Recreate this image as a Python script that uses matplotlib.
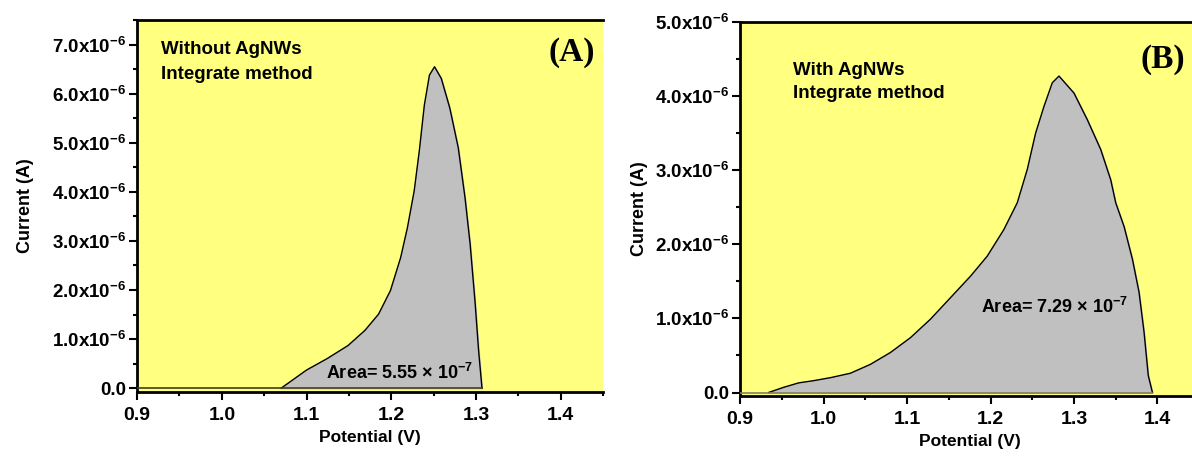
import numpy as np
import matplotlib.pyplot as plt
from matplotlib.ticker import FuncFormatter, MultipleLocator

plt.rcParams['font.family'] = ['Liberation Sans', 'DejaVu Sans']
plt.rcParams['font.weight'] = 'bold'
plt.rcParams['mathtext.default'] = 'regular'

# Panel A: without AgNWs (potential V, current in 1e-6 A)
pot_a = [1.070, 1.100, 1.124, 1.149, 1.169, 1.185, 1.199, 1.211, 1.219, 1.227,
         1.233, 1.239, 1.245, 1.251, 1.259, 1.269, 1.279, 1.287, 1.293, 1.299,
         1.303, 1.307]
cur_a = [0.0, 0.37, 0.60, 0.87, 1.18, 1.51, 1.99, 2.66, 3.27, 4.02,
         4.83, 5.77, 6.38, 6.55, 6.31, 5.71, 4.90, 3.88, 2.94, 1.72,
         0.77, 0.0]

# Panel B: with AgNWs
pot_b = [0.934, 0.952, 0.970, 0.988, 1.008, 1.032, 1.056, 1.080, 1.104, 1.128,
         1.152, 1.176, 1.196, 1.216, 1.232, 1.244, 1.254, 1.264, 1.274, 1.282,
         1.300, 1.316, 1.332, 1.344, 1.350, 1.360, 1.370, 1.378, 1.384, 1.389,
         1.394]
cur_b = [0.0, 0.07, 0.13, 0.16, 0.20, 0.26, 0.38, 0.54, 0.74, 0.99,
         1.28, 1.57, 1.84, 2.20, 2.56, 3.01, 3.50, 3.86, 4.18, 4.27,
         4.04, 3.68, 3.28, 2.87, 2.56, 2.24, 1.80, 1.35, 0.81, 0.23,
         0.0]

YELLOW = '#ffff80'
GREY = '#c0c0c0'


def sci_fmt(v, pos):
    if abs(v) < 1e-12:
        return '0.0'
    return '%.1fx10$^{-6}$' % (v * 1e6)


def style_axes(ax, ylo, yhi, pad):
    ax.set_facecolor(YELLOW)
    ax.set_xlim(0.9, 1.45)
    ax.set_ylim(ylo, yhi)
    ax.xaxis.set_major_locator(MultipleLocator(0.1))
    ax.xaxis.set_minor_locator(MultipleLocator(0.05))
    ax.yaxis.set_major_locator(MultipleLocator(1e-6))
    ax.yaxis.set_minor_locator(MultipleLocator(0.5e-6))
    ax.yaxis.set_major_formatter(FuncFormatter(sci_fmt))
    ax.xaxis.set_major_formatter(FuncFormatter(lambda v, p: '%.1f' % v))
    ax.spines['right'].set_visible(False)
    for s in ['left', 'bottom', 'top']:
        ax.spines[s].set_linewidth(2)
    ax.tick_params(which='both', direction='out', width=1.5)
    ax.tick_params(which='major', length=6)
    ax.tick_params(which='minor', length=3)
    ax.tick_params(axis='x', labelsize=14, pad=5)
    ax.tick_params(axis='y', labelsize=13.5, pad=2)
    for lab in ax.get_xticklabels() + ax.get_yticklabels():
        lab.set_fontweight('bold')
    ax.set_xlabel('Potential (V)', fontsize=12.5, fontweight='bold')
    ax.set_ylabel('Current (A)', fontsize=13, fontweight='bold', labelpad=pad)


fig = plt.figure(figsize=(11.92, 4.57), dpi=100)
ax_a = fig.add_axes([0.115, 0.142, 0.391, 0.814])
ax_b = fig.add_axes([0.621, 0.133, 0.385, 0.819])

# Panel A
xa = np.array(pot_a)
ya = np.array(cur_a) * 1e-6
ax_a.fill_between(xa, 0, ya, color=GREY, zorder=2)
ax_a.plot(xa, ya, color='black', lw=1, zorder=3)
ax_a.plot([0.9, pot_a[-1]], [0, 0], color='#404020', lw=1.2, zorder=3)
style_axes(ax_a, -0.08e-6, 7.5e-6, 13)
ax_a.text(0.928, 6.90e-6, 'Without AgNWs', fontsize=13.5, va='center')
ax_a.text(0.928, 6.39e-6, 'Integrate method', fontsize=13.5, va='center')
ax_a.text(1.386, 6.85e-6, '(A)', fontsize=24, fontweight='bold', ha='left',
          va='center', family='Liberation Serif')
ax_a.text(1.123, 0.31e-6, 'Area= 5.55 × 10$^{-7}$', fontsize=13,
          va='center', zorder=4)

# Panel B
xb = np.array(pot_b)
yb = np.array(cur_b) * 1e-6
ax_b.fill_between(xb, 0, yb, color=GREY, zorder=2)
ax_b.plot(xb, yb, color='black', lw=1, zorder=3)
ax_b.plot([0.9, pot_b[-1]], [0, 0], color='#808060', lw=1.2, zorder=3)
style_axes(ax_b, -0.05e-6, 5.0e-6, 5)
ax_b.text(0.963, 4.34e-6, 'With AgNWs', fontsize=13.5, va='center')
ax_b.text(0.963, 4.03e-6, 'Integrate method', fontsize=13.5, va='center')
ax_b.text(1.380, 4.49e-6, '(B)', fontsize=24, fontweight='bold', ha='left',
          va='center', family='Liberation Serif')
ax_b.text(1.188, 1.16e-6, 'Area= 7.29 × 10$^{-7}$', fontsize=13,
          va='center', zorder=4)

fig.savefig('out.png', dpi=100)
